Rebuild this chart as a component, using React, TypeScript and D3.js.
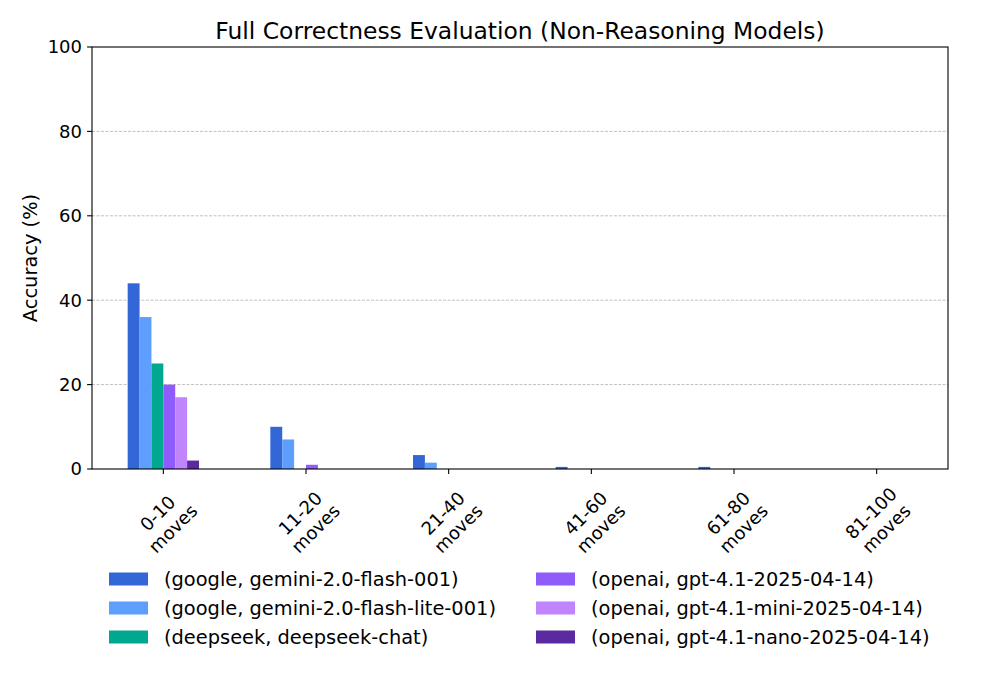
import React from "react";
import * as d3 from "d3";

const categories = ["0-10\nmoves", "11-20\nmoves", "21-40\nmoves", "41-60\nmoves", "61-80\nmoves", "81-100\nmoves"];
const seriesNames = [
  "(google, gemini-2.0-flash-001)",
  "(google, gemini-2.0-flash-lite-001)",
  "(deepseek, deepseek-chat)",
  "(openai, gpt-4.1-2025-04-14)",
  "(openai, gpt-4.1-mini-2025-04-14)",
  "(openai, gpt-4.1-nano-2025-04-14)",
];
const seriesColors = ["#3366d6", "#5e9efc", "#00a88f", "#8f5bfb", "#c084fc", "#5b2aa0"];
const flashValues = [44, 10, 3.3, 0.5, 0.5, 0];
const liteValues = [36, 7, 1.5, 0, 0, 0];
const deepseekValues = [25, 0, 0, 0, 0, 0];
const gpt41Values = [20, 1, 0, 0, 0, 0];
const miniValues = [17, 0, 0, 0, 0, 0];
const nanoValues = [2, 0, 0, 0, 0, 0];
const seriesValues = [flashValues, liteValues, deepseekValues, gpt41Values, miniValues, nanoValues];
const yTicks = [0, 20, 40, 60, 80, 100];

const W = 1000, H = 700;
const left = 92, right = 948, top = 47, bottom = 469;
const font = "DejaVu Sans";

export default function App() {
  const x = d3.scaleLinear().domain([-0.5, categories.length - 0.5]).range([left, right]);
  const y = d3.scaleLinear().domain([0, 100]).range([bottom, top]);
  const groupWidth = 0.5;
  const barW = groupWidth / seriesNames.length;
  return (
    <svg width={W} height={H} style={{ position: "absolute", left: 0, top: 0, background: "#fff" }} fontFamily={font}>
      <rect x={0} y={0} width={W} height={H} fill="#fff" />
      {yTicks.filter(t => t > 0 && t < 100).map(t => (
        <line key={t} x1={left} x2={right} y1={y(t)} y2={y(t)} stroke="#b0b0b0" strokeWidth={0.8} strokeDasharray="3,1.5" />
      ))}
      {seriesValues.map((vals, si) => (
        <g key={si} fill={seriesColors[si]}>
          {vals.map((v, ci) => (
            v > 0 ? <rect key={ci} x={x(ci - groupWidth / 2 + si * barW)} width={x(barW) - x(0)} y={y(v)} height={y(0) - y(v)} /> : null
          ))}
        </g>
      ))}
      <rect x={left} y={top} width={right - left} height={bottom - top} fill="none" stroke="#000" strokeWidth={1.1} />
      {yTicks.map(t => (
        <g key={t}>
          <line x1={left} x2={left - 4.9} y1={y(t)} y2={y(t)} stroke="#000" strokeWidth={1.1} />
          <text x={left - 10} y={y(t)} dy="0.35em" textAnchor="end" fontSize={18}>{t}</text>
        </g>
      ))}
      {categories.map((c, i) => {
        const lines = c.split("\n");
        return (
          <g key={i}>
            <line x1={x(i)} x2={x(i)} y1={bottom} y2={bottom + 4.9} stroke="#000" strokeWidth={1.1} />
            <g transform={`translate(${x(i) + 2},${521}) rotate(-45)`}>
              {lines.map((l, li) => (
                <text key={li} x={0} y={-4.5 + li * 21.6} textAnchor="middle" fontSize={18}>{l}</text>
              ))}
            </g>
          </g>
        );
      })}
      <text x={(left + right) / 2} y={39} textAnchor="middle" fontSize={23.4}>Full Correctness Evaluation (Non-Reasoning Models)</text>
      <text transform={`translate(37,${(top + bottom) / 2}) rotate(-90)`} textAnchor="middle" fontSize={19.4}>Accuracy (%)</text>
      {seriesNames.map((n, i) => {
        const col = Math.floor(i / 3);
        const row = i % 3;
        const px = col === 0 ? 109 : 536;
        const cy = 579 + row * 29;
        return (
          <g key={i}>
            <rect x={px} y={cy - 6.5} width={39} height={13} fill={seriesColors[i]} />
            <text x={px + 55} y={cy} dy="0.35em" fontSize={19.4}>{n}</text>
          </g>
        );
      })}
    </svg>
  );
}
